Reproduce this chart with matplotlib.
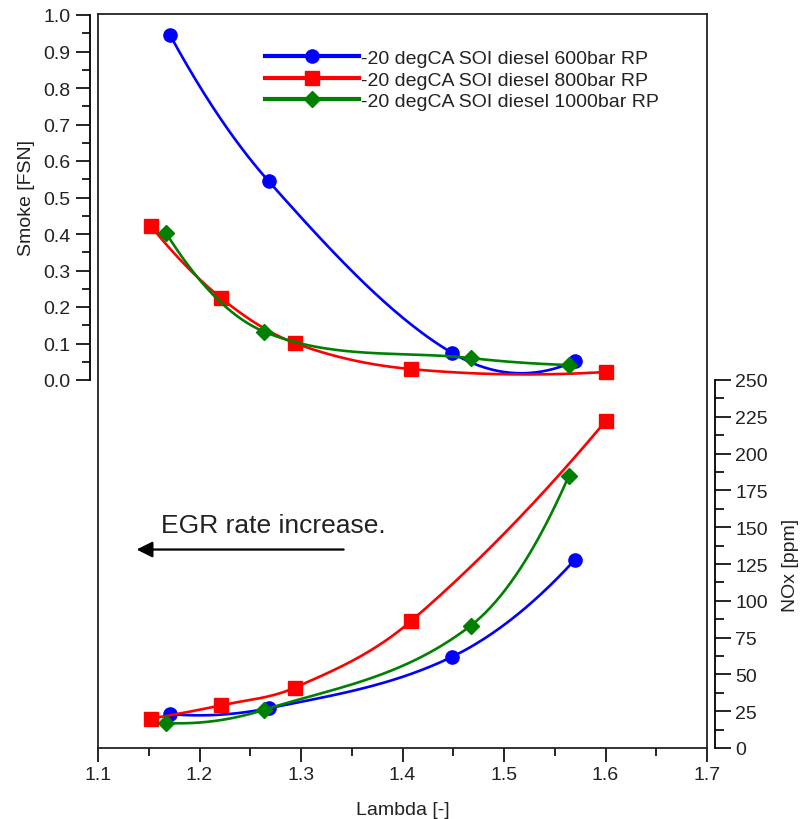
import numpy as np
import matplotlib
matplotlib.use("Agg")
import matplotlib.pyplot as plt

plt.rcParams['font.family'] = ['Liberation Sans', 'DejaVu Sans']

labels = ["-20 degCA SOI diesel 600bar RP",
          "-20 degCA SOI diesel 800bar RP",
          "-20 degCA SOI diesel 1000bar RP"]
colors = ["#0000ff", "#ff0000", "#008000"]
markers = ["o", "s", "D"]
msizes = [9.5, 9.5, 8]

lam_600 = [1.171, 1.268, 1.449, 1.570]
smoke_600 = [0.945, 0.545, 0.074, 0.052]
nox_600 = [23, 27, 62, 128]

lam_800 = [1.152, 1.221, 1.294, 1.408, 1.600]
smoke_800 = [0.422, 0.225, 0.101, 0.030, 0.022]
nox_800 = [20, 29, 41, 86, 222]

lam_1000 = [1.167, 1.264, 1.467, 1.564]
smoke_1000 = [0.403, 0.132, 0.060, 0.041]
nox_1000 = [17, 26, 83, 185]

x_ticks = [1.1, 1.2, 1.3, 1.4, 1.5, 1.6, 1.7]
smoke_ticks = [0.0, 0.1, 0.2, 0.3, 0.4, 0.5, 0.6, 0.7, 0.8, 0.9, 1.0]
nox_ticks = [0, 25, 50, 75, 100, 125, 150, 175, 200, 225, 250]

TXT = "#222222"
FS = 14


def smooth_curve(x, y, per_seg=60):
    """Cubic Hermite curve through the points with finite-difference tangents."""
    x = np.asarray(x, float)
    y = np.asarray(y, float)
    n = len(x)
    d = np.diff(y) / np.diff(x)
    m = np.zeros(n)
    for i in range(1, n - 1):
        m[i] = (y[i + 1] - y[i - 1]) / (x[i + 1] - x[i - 1])
    m[0] = 2 * d[0] - m[1]
    m[-1] = 2 * d[-1] - m[-2]
    xs_all, ys_all = [], []
    for i in range(n - 1):
        h = x[i + 1] - x[i]
        t = np.linspace(0, 1, per_seg)
        h00 = 2 * t**3 - 3 * t**2 + 1
        h10 = t**3 - 2 * t**2 + t
        h01 = -2 * t**3 + 3 * t**2
        h11 = t**3 - t**2
        xs_all.append(x[i] + t * h)
        ys_all.append(h00 * y[i] + h10 * h * m[i] + h01 * y[i + 1] + h11 * h * m[i + 1])
    return np.concatenate(xs_all), np.concatenate(ys_all)


W, H = 809, 820
fig = plt.figure(figsize=(W / 100, H / 100), dpi=100)

def fx(px):
    return px / W

def fy(py):
    return 1 - py / H

left, right = 98, 707
top, bottom = 15, 749
mid = 381

# frame axes carrying the Lambda axis
ax = fig.add_axes([fx(left), fy(bottom), fx(right) - fx(left), fy(top) - fy(bottom)])
ax.set_xlim(1.1, 1.7)
ax.set_ylim(0, 1)
ax.set_yticks([])
ax.set_xticks(x_ticks)
ax.set_xticks(np.arange(1.15, 1.7, 0.1), minor=True)
ax.tick_params(axis='x', which='major', length=10, width=1.2, labelsize=FS, pad=3,
               labelcolor=TXT)
ax.tick_params(axis='x', which='minor', length=6, width=1.2)
ax.set_xlabel("Lambda [-]", fontsize=FS, labelpad=13, color=TXT)
for s in ax.spines.values():
    s.set_linewidth(1.3)
    s.set_color("#222222")

# smoke axes (upper part)
axs = fig.add_axes([fx(left), fy(mid), fx(right) - fx(left), fy(16) - fy(mid)], sharex=ax)
axs.patch.set_alpha(0)
axs.set_ylim(0, 1.0)
for k in ["top", "right", "bottom"]:
    axs.spines[k].set_visible(False)
axs.spines["left"].set_position(("outward", 6))
axs.spines["left"].set_linewidth(1.3)
axs.set_yticks(smoke_ticks)
axs.set_yticklabels([f"{v:.1f}" for v in smoke_ticks])
axs.set_yticks(np.arange(0.05, 1.0, 0.1), minor=True)
axs.tick_params(axis='y', which='major', length=10, width=1.2, labelsize=FS, pad=4,
                labelcolor=TXT)
axs.tick_params(axis='y', which='minor', length=6, width=1.2)
axs.tick_params(axis='x', which='both', bottom=False, labelbottom=False)
axs.set_ylabel("Smoke [FSN]", fontsize=FS, labelpad=6, color=TXT)

# NOx axes (lower part)
axn = fig.add_axes([fx(left), fy(bottom), fx(right) - fx(left), fy(mid) - fy(bottom)], sharex=ax)
axn.patch.set_alpha(0)
axn.set_ylim(0, 250)
for k in ["top", "left", "bottom"]:
    axn.spines[k].set_visible(False)
axn.spines["right"].set_position(("outward", 6))
axn.spines["right"].set_linewidth(1.3)
axn.yaxis.set_label_position("right")
axn.yaxis.tick_right()
axn.set_yticks(nox_ticks)
axn.set_yticks(np.arange(12.5, 250, 25), minor=True)
axn.tick_params(axis='y', which='major', length=11.5, width=1.2, labelsize=FS, pad=3,
                labelcolor=TXT)
axn.tick_params(axis='y', which='minor', length=6.5, width=1.2)
axn.tick_params(axis='x', which='both', bottom=False, labelbottom=False)
axn.set_ylabel("NOx [ppm]", fontsize=FS, labelpad=10, color=TXT)

series = [
    (lam_600, smoke_600, nox_600),
    (lam_800, smoke_800, nox_800),
    (lam_1000, smoke_1000, nox_1000),
]
handles = []
for (lam, sm, nx), c, m, ms, lab in zip(series, colors, markers, msizes, labels):
    xs, ys = smooth_curve(lam, sm)
    axs.plot(xs, ys, color=c, lw=1.9, clip_on=False)
    axs.plot(lam, sm, ls="none", marker=m, ms=ms, color=c, clip_on=False)
    xs, ys = smooth_curve(lam, nx)
    axn.plot(xs, ys, color=c, lw=1.9, clip_on=False)
    axn.plot(lam, nx, ls="none", marker=m, ms=ms, color=c, clip_on=False)
    h, = ax.plot([], [], color=c, lw=3.0, marker=m, ms=ms, label=lab)
    handles.append(h)

leg = ax.legend(handles=handles, loc="upper left", bbox_to_anchor=(0.262, 0.962),
                frameon=False, fontsize=FS, handlelength=4.8, handletextpad=0.1,
                labelspacing=0.2, borderaxespad=0)
for t in leg.get_texts():
    t.set_color(TXT)

# EGR arrow
ax.annotate("", xy=(1.138, 0.2704), xytext=(1.342, 0.2704),
            xycoords=("data", "axes fraction"),
            arrowprops=dict(arrowstyle="-|>", color="black", lw=1.6,
                            mutation_scale=24, shrinkA=0, shrinkB=0))
ax.text(1.162, 0.294, "EGR rate increase.", fontsize=19, color=TXT,
        transform=ax.get_xaxis_transform())

fig.savefig("out.png", dpi=100)
